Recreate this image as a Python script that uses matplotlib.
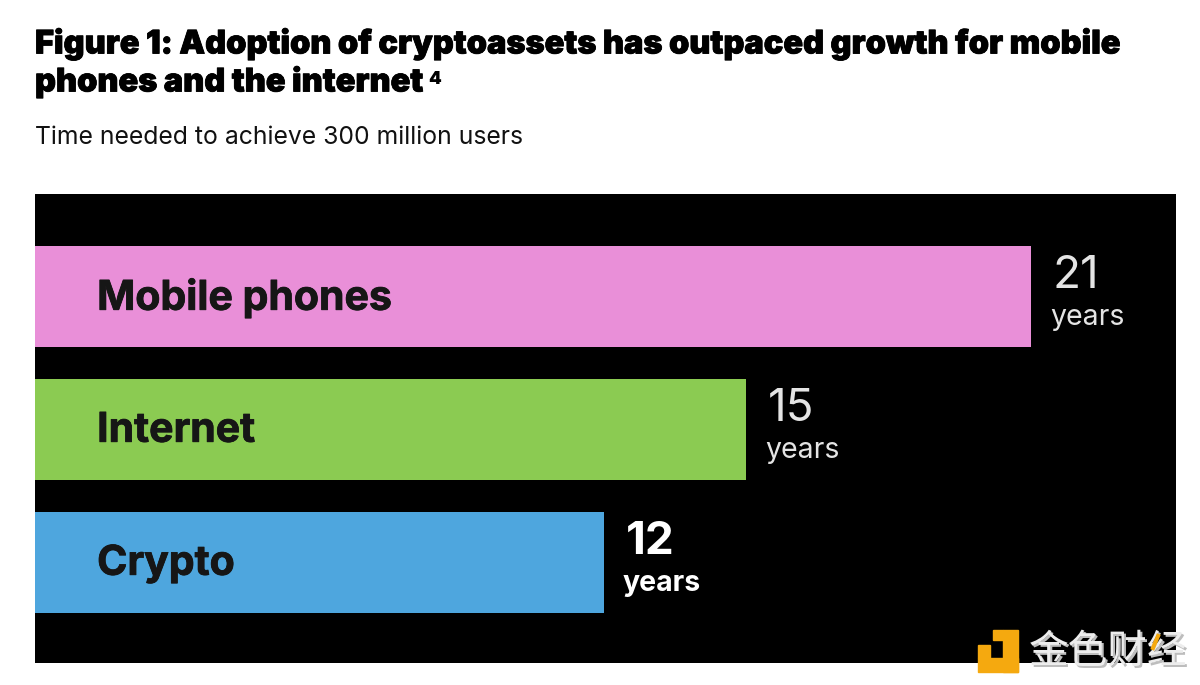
import matplotlib
matplotlib.use("Agg")
import matplotlib.pyplot as plt
import matplotlib.patheffects as pe
from matplotlib.lines import Line2D
from matplotlib.patches import Rectangle

categorias = ["Mobile phones", "Internet", "Crypto"]
anios = [21, 15, 12]
colores = ["#E98FD8", "#8BCB52", "#4EA6DE"]
color_anios = ["#E4E4E4", "#E4E4E4", "#FFFFFF"]
peso_anios = ["normal", "normal", "bold"]

W, H = 1200, 685
fig = plt.figure(figsize=(W / 100, H / 100), dpi=100, facecolor="white")
plt.rcParams["font.family"] = ["Inter", "DejaVu Sans"]

# panel negro
ax = fig.add_axes([35 / W, 1 - 663 / H, 1141 / W, 469 / H], facecolor="black")
ax.barh(range(3), anios, height=0.755, color=colores)
ax.set_xlim(0, 24.06)
ax.set_ylim(2.756, -0.77)
ax.axis("off")
ax.add_patch(Rectangle((0, 0), 1, 1, transform=ax.transAxes, color="black", zorder=0))

for i, (cat, a) in enumerate(zip(categorias, anios)):
    ax.text(1.31, i + 0.01, cat, color="#161616", fontsize=29.5, fontweight="bold", va="center", ha="left",
            path_effects=[pe.withStroke(linewidth=0.6, foreground="#161616")])
    ax.text(a + 0.45, i - 0.155, str(a), color=color_anios[i], fontsize=33,
            fontweight=peso_anios[i], va="center", ha="left")
    ax.text(a + 0.40, i + 0.16, "years", color=color_anios[i], fontsize=20.5,
            fontweight=peso_anios[i], va="center", ha="left")

# titulo y subtitulo
grueso = [pe.withStroke(linewidth=0.6, foreground="black")]
fig.text(35 / W, 1 - 44 / H, "Figure 1: Adoption of cryptoassets has outpaced growth for mobile",
         fontsize=23.4, fontweight="black", color="black", va="center", ha="left", path_effects=grueso)
fig.text(35 / W, 1 - 82 / H, "phones and the internet", fontsize=23.4, fontweight="black",
         color="black", va="center", ha="left", path_effects=grueso)
fig.text(428 / W, 1 - 79 / H, "4", fontsize=13, fontweight="black", color="black", va="center", ha="left")
fig.text(35 / W, 1 - 138 / H, "Time needed to achieve 300 million users", fontsize=17.8,
         color="#111111", va="center", ha="left")

# marca de agua
naranja = "#F5A90F"
fig.add_artist(Rectangle((978 / W, 1 - 672 / H), 40 / W, 14 / H, transform=fig.transFigure, color=naranja))
fig.add_artist(Rectangle((1003 / W, 1 - 672 / H), 15 / W, 42 / H, transform=fig.transFigure, color=naranja))
fig.add_artist(Rectangle((978 / W, 1 - 658 / H), 12 / W, 13 / H, transform=fig.transFigure, color=naranja))
fig.add_artist(Rectangle((993 / W, 1 - 640 / H), 10 / W, 10 / H, transform=fig.transFigure, color=naranja))
fig.text(1031 / W, 1 - 654 / H, "金色财经", family=["Noto Sans CJK SC", "DejaVu Sans"], fontsize=28.5,
         color="#BDBDBD", va="center", ha="left")
fig.text(1029 / W, 1 - 652 / H, "金色财经", family=["Noto Sans CJK SC", "DejaVu Sans"], fontsize=28.5,
         color="#EDEDED", va="center", ha="left")
fig.add_artist(Line2D([1158 / W, 1153 / W], [1 - 636 / H, 1 - 648 / H], transform=fig.transFigure,
                      color=naranja, linewidth=3, zorder=5))

fig.savefig("out.png", dpi=100)
